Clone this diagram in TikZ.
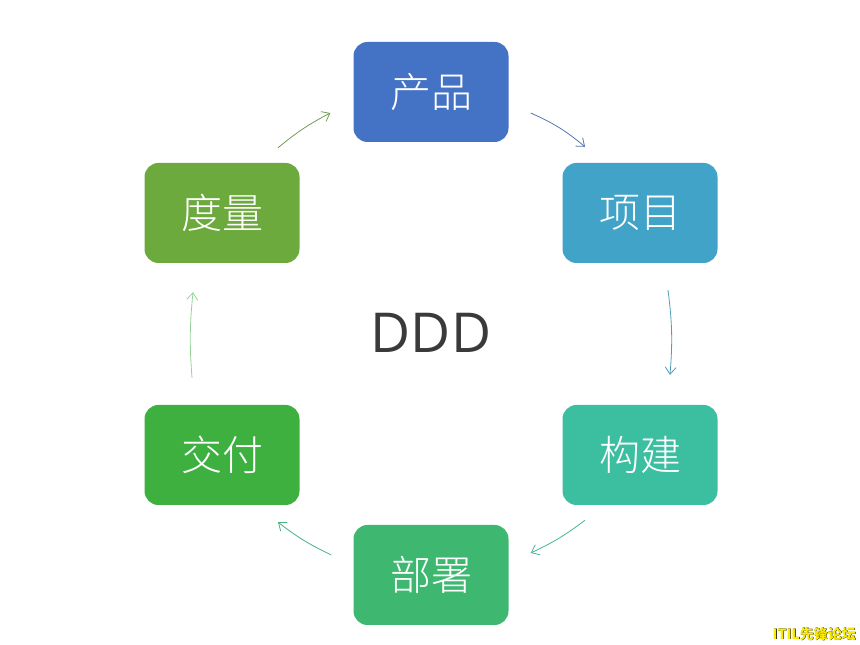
\documentclass[tikz,border=0pt]{standalone}
\usepackage{fontspec}
\newfontfamily\cjk{Noto Sans CJK SC}
\newfontfamily\cjklight{Noto Sans CJK SC Light}
\newfontfamily\latinsans{Open Sans}
\usetikzlibrary{arrows.meta}

\definecolor{cprod}{RGB}{68,114,196}
\definecolor{cproj}{RGB}{65,163,199}
\definecolor{cbuild}{RGB}{60,190,160}
\definecolor{cdeploy}{RGB}{62,184,112}
\definecolor{cdeliver}{RGB}{62,176,64}
\definecolor{cmeasure}{RGB}{108,170,62}
\definecolor{cddd}{RGB}{58,58,58}
\definecolor{cwm}{RGB}{250,235,0}

\begin{document}
\begin{tikzpicture}[
    x=1pt, y=1pt,
    stage/.style={
        rounded corners=14pt,
        minimum width=155pt,
        minimum height=100pt,
        inner sep=0pt,
        text=white,
        font=\cjklight\fontsize{41}{41}\selectfont
    },
    flow/.style={-{Straight Barb[length=7pt,width=11pt]}, line width=0.8pt},
    wmtext/.style={font=\cjk\bfseries\fontsize{14}{14}\selectfont, anchor=east, inner sep=0pt}
]
\useasboundingbox (0,0) rectangle (860,645);

% ============================================================
% 阶段节点
% ============================================================
\node[stage, fill=cprod]    (prod)    at (431, 553) {产品};
\node[stage, fill=cproj]    (proj)    at (640, 432) {项目};
\node[stage, fill=cbuild]   (build)   at (640, 190) {构建};
\node[stage, fill=cdeploy]  (deploy)  at (431,  70) {部署};
\node[stage, fill=cdeliver] (deliver) at (222, 190) {交付};
\node[stage, fill=cmeasure] (measure) at (222, 432) {度量};

% 中心
\node[font=\latinsans\fontsize{55}{55}\selectfont, text=cddd] (ddd) at (431, 312) {DDD};

% ============================================================
% 循环箭头
% ============================================================
\draw[flow, draw=cprod!70!gray]
    ([shift={(22,-21)}]prod.east) to[bend left=8] ([shift={(-55,16)}]proj.north);
\draw[flow, draw=cproj!80!gray]
    ([shift={(28,-27)}]proj.south) to[bend left=6] ([shift={(30,30)}]build.north);
\draw[flow, draw=cbuild!85!gray]
    ([shift={(-55,-15)}]build.south) to[bend left=6] ([shift={(22,22)}]deploy.east);
\draw[flow, draw=cdeploy!65!cbuild!80!gray]
    ([shift={(-22,20)}]deploy.west) to[bend left=6] ([shift={(56,-17)}]deliver.south);
\draw[flow, draw=cdeliver!55!white]
    ([shift={(-30,27)}]deliver.north) to[bend left=5] ([shift={(-29,-29)}]measure.south);
\draw[flow, draw=cmeasure!70!gray]
    ([shift={(56,15)}]measure.north) to[bend left=6] ([shift={(-23,-21)}]prod.west);

% ============================================================
% 水印
% ============================================================
\node[wmtext, text=black] (wmshadow) at (856.6, 10.4) {ITIL先锋论坛};
\node[wmtext, text=cwm]   (wm)       at (856, 11) {ITIL先锋论坛};

\end{tikzpicture}
\end{document}
